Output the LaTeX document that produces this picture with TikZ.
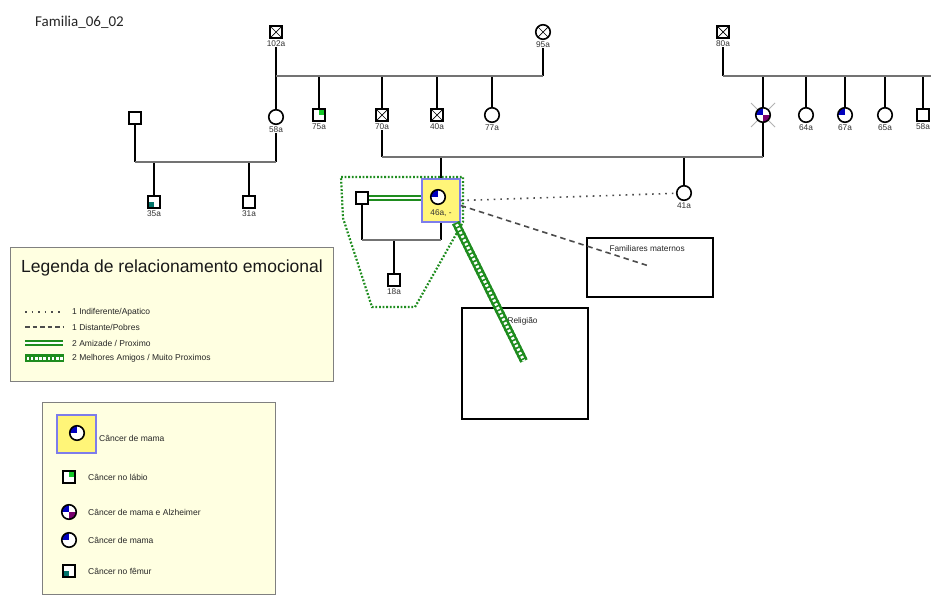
\documentclass[tikz,border=0pt]{standalone}
\usepackage{fontspec}
\setmainfont{Liberation Sans}
\newfontfamily\titlefont{Carlito}
\definecolor{legbg}{RGB}{255,255,225}
\definecolor{grn}{RGB}{30,140,30}
\definecolor{lipgreen}{RGB}{20,200,40}
\definecolor{cblue}{RGB}{0,0,190}
\definecolor{cpurple}{RGB}{120,0,110}
\definecolor{cteal}{RGB}{0,115,105}
\definecolor{boxblue}{RGB}{125,125,235}
\definecolor{boxyellow}{RGB}{255,245,120}
\definecolor{hline}{RGB}{115,115,115}
\tikzset{
  sq/.style={draw, line width=1.6pt, minimum size=12.5pt, inner sep=0pt, fill=white},
  ci/.style={circle, draw, line width=1.6pt, minimum size=14.5pt, inner sep=0pt, fill=white},
  dead/.style={path picture={\draw[line width=0.7pt]
      (path picture bounding box.north west) -- (path picture bounding box.south east)
      (path picture bounding box.north east) -- (path picture bounding box.south west);}},
  bluetl/.style={path picture={\fill[cblue] (path picture bounding box.center) rectangle (path picture bounding box.north west);}},
  alz/.style={path picture={\fill[cblue] (path picture bounding box.center) rectangle (path picture bounding box.north west);
      \fill[cpurple] (path picture bounding box.center) rectangle (path picture bounding box.south east);}},
  liptr/.style={path picture={\fill[lipgreen] (path picture bounding box.center) rectangle (path picture bounding box.north east);}},
  femur/.style={path picture={\fill[cteal] (path picture bounding box.center) rectangle (path picture bounding box.south west);}},
  lbl/.style={font=\fontsize{8.3}{9}\selectfont, text=black!80, inner sep=0.3pt},
  lgt/.style={font=\fontsize{8.5}{10}\selectfont, text=black!85, anchor=west, inner sep=0pt},
  vl/.style={line width=1.7pt, black},
  hl/.style={line width=1.8pt, hline},
  casebox/.style={draw=boxblue, fill=boxyellow, line width=1.5pt, inner sep=0pt},
  legbox/.style={draw=gray, fill=legbg, line width=1pt, inner sep=0pt, anchor=north west},
  dotl/.style={line width=1.6pt, black!70, dash pattern=on 1.6pt off 5pt},
  dashl/.style={line width=1.6pt, black!70, dash pattern=on 5.5pt off 4pt},
  amiz/.style={draw=grn, double=white, double distance=1.5pt, line width=1.9pt},
  rail/.style={grn, line width=8pt,
     postaction={draw=white, line width=3pt},
     postaction={draw=grn, line width=8pt, dash pattern=on 1.6pt off 2.6pt}},
  label distance=1.2pt
}
\begin{document}
\begin{tikzpicture}[x=1pt,y=-1pt]
\useasboundingbox (0,0) rectangle (931,595);
\fill[white] (0,0) rectangle (931,595);

% title
\node[anchor=west, inner sep=0pt, font=\titlefont\fontsize{15}{17}\selectfont, text=black!85] (title) at (35,22) {Familia\_06\_02};

% legend boxes
\node[legbox, minimum width=323pt, minimum height=134pt] (leg1) at (10,247) {};
\node[legbox, minimum width=233pt, minimum height=192pt] (leg2) at (42,402) {};

% coordinates of family lines
\coordinate (s1L) at (276,76); \coordinate (s1R) at (543,76);
\coordinate (s2L) at (723,76); \coordinate (s2R) at (940,76);
\coordinate (m1L) at (135,162); \coordinate (m1R) at (276,162);
\coordinate (m2L) at (382,157); \coordinate (m2R) at (763,157);
\coordinate (m3L) at (362,240); \coordinate (m3R) at (441,240);

% generation 1
\node[sq,dead,label={[lbl,name=l102]below:102a}] (n102) at (276,32) {};
\node[ci,dead,label={[lbl,name=l95]below:95a}] (n95) at (543,32) {};
\node[sq,dead,label={[lbl,name=l80]below:80a}] (n80) at (723,32) {};

% generation 2
\node[ci,label={[lbl,name=l58]below:58a}] (n58) at (276,117) {};
\node[sq,liptr,label={[lbl]below:75a}] (n75) at (319,115) {};
\node[sq,dead,label={[lbl,name=l70]below:70a}] (n70) at (382,115) {};
\node[sq,dead,label={[lbl]below:40a}] (n40) at (437,115) {};
\node[ci,label={[lbl]below:77a}] (n77) at (492,115) {};

\draw[gray!60, line width=0.8pt] (751,103) -- (775,127) (775,103) -- (751,127);
\node[ci,alz] (n763) at (763,115) {};
\node[ci,label={[lbl]below:64a}] (n64) at (806,115) {};
\node[ci,bluetl,label={[lbl]below:67a}] (n67) at (845,115) {};
\node[ci,label={[lbl]below:65a}] (n65) at (885,115) {};
\node[sq,label={[lbl]below:58a}] (n58b) at (923,115) {};

\node[sq] (u1) at (135,118) {};

% generation 3
\node[sq,femur,label={[lbl]below:35a}] (n35) at (154,202) {};
\node[sq,label={[lbl]below:31a}] (n31) at (249,202) {};
\node[ci,label={[lbl]below:41a}] (n41) at (684,193) {};

% index person 46a
\node[casebox, minimum width=38pt, minimum height=43pt] (n46) at (441,200.5) {};
\node[ci,bluetl] (n46c) at (438,197) {};
\node[lbl] (l46) at (441,213) {46a, -};
\node[sq] (sp) at (362,198) {};
\node[sq,label={[lbl]below:18a}] (n18) at (394,280) {};

% lines gen 1 -> 2
\draw[vl] (l102) -- (s1L);
\draw[vl] (l95) -- (s1R);
\draw[vl] (s1L) -- (n58);
\draw[vl] (s1L -| n75) -- (n75);
\draw[vl] (s1L -| n70) -- (n70);
\draw[vl] (s1L -| n40) -- (n40);
\draw[vl] (s1L -| n77) -- (n77);
\draw[hl] (s1L) -- (s1R);

\draw[vl] (l80) -- (s2L);
\draw[vl] (s2L -| n763) -- (n763);
\draw[vl] (s2L -| n64) -- (n64);
\draw[vl] (s2L -| n67) -- (n67);
\draw[vl] (s2L -| n65) -- (n65);
\draw[vl] (s2L -| n58b) -- (n58b);
\draw[hl] (s2L) -- (s2R);

% left family
\draw[vl] (u1) -- (m1L);
\draw[vl] (l58) -- (m1R);
\draw[vl] (m1L -| n35) -- (n35);
\draw[vl] (m1L -| n31) -- (n31);
\draw[hl] (m1L) -- (m1R);

% 70a x daughter of 80a
\draw[vl] (l70) -- (m2L);
\draw[vl] (n763) -- (m2R);
\draw[vl] (m2L -| n46) -- (n46);
\draw[vl] (m2L -| n41) -- (n41);
\draw[hl] (m2L) -- (m2R);

% 46a family
\draw[vl] (sp) -- (m3L);
\draw[vl] (n46) -- (m3R);
\draw[vl] (m3L -| n18) -- (n18);
\draw[hl] (m3L) -- (m3R);
\draw[amiz] (sp.east) -- (sp.east -| n46.west);

% household polygon
\draw[grn, line width=2.2pt, dash pattern=on 1.8pt off 1.8pt]
  (341,177) -- (463,177) -- (463,222) -- (415,307) -- (372,307) -- (343,218) -- cycle;

% boxes
\node[draw, line width=1.5pt, minimum width=126pt, minimum height=59pt, anchor=north west, inner sep=0pt] (fam) at (586,237) {};
\node[lbl, anchor=west, text=black!85] (famt) at (609,249) {Familiares maternos};
\node[draw, line width=1.5pt, minimum width=126pt, minimum height=111pt, anchor=north west, inner sep=0pt] (rel) at (461,307) {};
\node[lbl, anchor=west, text=black!85] (relt) at (507,321) {Religião};
\coordinate (famend) at (649,266);
\coordinate (relend) at (524,361);

% emotional relations
\draw[dotl] (n46.east) -- (n41);
\draw[dashl] ([yshift=-5pt]n46.east) -- (famend);
\draw[rail] ([xshift=-5pt]n46.south east) -- (relend);

% legend 1
\node[anchor=west, inner sep=0pt, font=\fontsize{17.5}{19}\selectfont, text=black!90] (leg1t) at (21,268) {Legenda de relacionamento emocional};
\coordinate (a1) at (25,312); \coordinate (b1) at (63,312);
\coordinate (a2) at (25,327); \coordinate (b2) at (63,327);
\coordinate (a3) at (25,343); \coordinate (b3) at (63,343);
\coordinate (a4) at (25,358); \coordinate (b4) at (63,358);
\draw[dotl] (a1) -- (b1);
\draw[dashl, dash pattern=on 4.5pt off 3pt] (a2) -- (b2);
\draw[amiz] (a3) -- (b3);
\draw[rail] (a4) -- (b4);
\node[lgt] (t1) at (72,312) {1 Indiferente/Apatico};
\node[lgt] (t2) at (72,327) {1 Distante/Pobres};
\node[lgt] (t3) at (72,343) {2 Amizade / Proximo};
\node[lgt] (t4) at (72,358) {2 Melhores Amigos / Muito Proximos};

% legend 2
\node[casebox, minimum width=39pt, minimum height=38pt] (k1b) at (76.5,434) {};
\node[ci,bluetl] (k1c) at (77,433) {};
\node[lgt] (k1t) at (99,438) {Câncer de mama};
\node[sq,liptr] (k2) at (69,477) {};
\node[lgt] (k2t) at (88,477) {Câncer no lábio};
\node[ci,alz] (k3) at (69,512) {};
\node[lgt] (k3t) at (88,512) {Câncer de mama e Alzheimer};
\node[ci,bluetl] (k4) at (69,540) {};
\node[lgt] (k4t) at (88,540) {Câncer de mama};
\node[sq,femur] (k5) at (69,571) {};
\node[lgt] (k5t) at (88,571) {Câncer no fêmur};
\end{tikzpicture}
\end{document}
